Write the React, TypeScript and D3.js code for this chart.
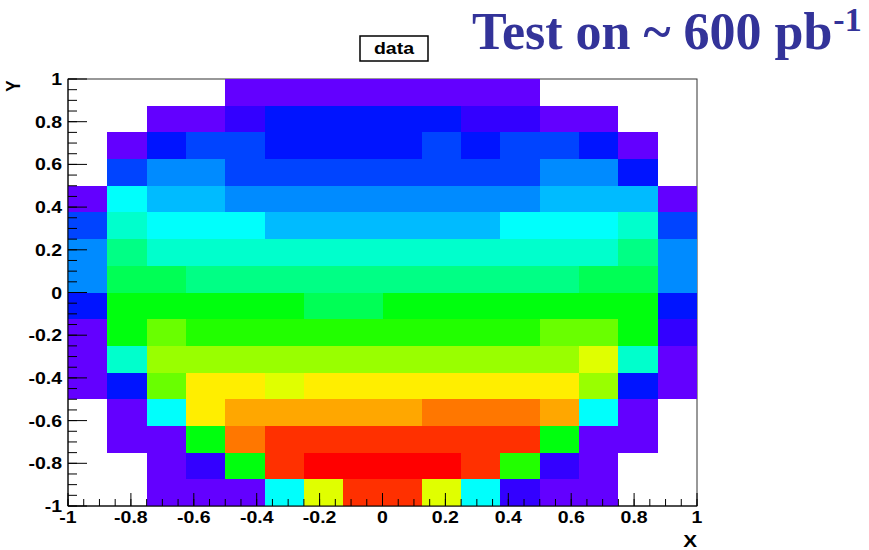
import React from "react";
import * as d3 from "d3";

// bin edges (16 x 16 bins)
const binEdges = [-1, -0.875, -0.75, -0.625, -0.5, -0.375, -0.25, -0.125, 0, 0.125, 0.25, 0.375, 0.5, 0.625, 0.75, 0.875, 1];

// contour level of each bin, rows from top (y = 1) to bottom (y = -1), columns x = -1 .. 1
const _ = null;
const levels: (number | null)[][] = [
  [_, _, _, _, 0, 0, 0, 0, 0, 0, 0, 0, _, _, _, _],
  [_, _, 0, 0, 1, 2, 2, 2, 2, 2, 1, 1, 0, 0, _, _],
  [_, 0, 2, 3, 3, 2, 2, 2, 2, 3, 2, 3, 3, 2, 0, _],
  [_, 3, 4, 4, 3, 3, 3, 3, 3, 3, 3, 3, 4, 4, 2, _],
  [0, 6, 5, 5, 4, 4, 4, 4, 4, 4, 4, 4, 5, 5, 5, 0],
  [3, 7, 6, 6, 6, 5, 5, 5, 5, 5, 5, 6, 6, 6, 7, 3],
  [4, 8, 7, 7, 7, 7, 7, 7, 7, 7, 7, 7, 7, 7, 8, 4],
  [4, 9, 9, 8, 8, 8, 8, 8, 8, 8, 8, 8, 8, 9, 9, 4],
  [2, 10, 10, 10, 10, 10, 9, 9, 10, 10, 10, 10, 10, 10, 10, 2],
  [0, 10, 12, 11, 11, 11, 11, 11, 11, 11, 11, 11, 12, 12, 10, 1],
  [0, 7, 13, 13, 13, 13, 13, 13, 13, 13, 13, 13, 13, 14, 7, 0],
  [0, 2, 12, 15, 15, 14, 15, 15, 15, 15, 15, 15, 15, 13, 2, 0],
  [_, 0, 6, 15, 16, 16, 16, 16, 16, 17, 17, 17, 16, 6, 0, _],
  [_, 0, 0, 10, 17, 18, 18, 18, 18, 18, 18, 18, 10, 0, 0, _],
  [_, _, 0, 1, 10, 18, 19, 19, 19, 19, 18, 11, 1, 0, _, _],
  [_, _, 0, 0, 0, 6, 14, 18, 18, 14, 6, 1, 0, 0, _, _],
];

// ROOT "pretty" palette, one colour per contour level
const palette = [
  "#6300FF", "#3300FF", "#0014FF", "#0044FF", "#008BFF", "#00BBFF", "#00FFFC", "#00FFCC", "#00FF85", "#00FF55",
  "#00FF0E", "#22FF00", "#69FF00", "#99FF00", "#E0FF00", "#FFEE00", "#FFA700", "#FF7700", "#FF3000", "#FF0000",
];

const majorTicks = [-1, -0.8, -0.6, -0.4, -0.2, 0, 0.2, 0.4, 0.6, 0.8, 1];
const tickLabels = ["-1", "-0.8", "-0.6", "-0.4", "-0.2", "0", "0.2", "0.4", "0.6", "0.8", "1"];

const W = 869;
const H = 550;
const left = 68, right = 697, top = 79, bottom = 506;
const font = "'Liberation Sans', Arial, Helvetica, sans-serif";
const stretch = 1.22;

const App = () => {
  const x = d3.scaleLinear().domain([-1, 1]).range([left, right]);
  const y = d3.scaleLinear().domain([-1, 1]).range([bottom, top]);
  const color = d3.scaleQuantize<string>().domain([0, 20]).range(palette);
  const minorTicks = d3.range(-1, 1.0001, 0.05);

  const cells: JSX.Element[] = [];
  levels.forEach((row, r) => {
    const yi = levels.length - 1 - r;
    row.forEach((z, c) => {
      if (z === null) return;
      const x0 = Math.round(x(binEdges[c]));
      const x1 = Math.round(x(binEdges[c + 1]));
      const y0 = Math.round(y(binEdges[yi + 1]));
      const y1 = Math.round(y(binEdges[yi]));
      cells.push(
        <rect key={`${r}-${c}`} x={x0} y={y0} width={x1 - x0} height={y1 - y0} fill={color(z)} />
      );
    });
  });

  return (
    <div style={{ position: "absolute", left: 0, top: 0 }}>
      <svg width={W} height={H} style={{ display: "block", background: "#fff" }}>
        {/* title */}
        <text
          x={472}
          y={49}
          fontFamily="'Liberation Serif', 'Times New Roman', serif"
          fontWeight="bold"
          fontSize={52}
          fill="#333399"
        >
          Test on ~ 600 pb
          <tspan fontSize={34} dy={-18} dx={1}>-1</tspan>
        </text>

        {/* histogram title box */}
        <rect x={360} y={36} width={68} height={25} fill="#fff" stroke="#000" strokeWidth={1.5} />
        <text
          transform={`translate(394,54) scale(${stretch},1)`}
          textAnchor="middle"
          fontFamily={font}
          fontWeight="bold"
          fontSize={16}
        >
          data
        </text>

        {/* frame */}
        <rect x={left} y={top} width={right - left} height={bottom - top} fill="none" stroke="#333" strokeWidth={1} />

        <g shapeRendering="crispEdges">{cells}</g>

        {/* axes */}
        <g stroke="#000" strokeWidth={1}>
          <line x1={left} x2={left} y1={top} y2={bottom} />
          <line x1={left} x2={right} y1={bottom} y2={bottom} />
          {minorTicks.map((t, i) => (
            <line key={`xm${i}`} x1={x(t)} x2={x(t)} y1={bottom} y2={bottom - 7} />
          ))}
          {majorTicks.map((t, i) => (
            <line key={`xM${i}`} x1={x(t)} x2={x(t)} y1={bottom} y2={bottom - 13} />
          ))}
          {minorTicks.map((t, i) => (
            <line key={`ym${i}`} x1={left} x2={left + 9} y1={y(t)} y2={y(t)} />
          ))}
          {majorTicks.map((t, i) => (
            <line key={`yM${i}`} x1={left} x2={left + 19} y1={y(t)} y2={y(t)} />
          ))}
        </g>

        <g fontFamily={font} fontWeight="bold" fontSize={16} fill="#000">
          {majorTicks.map((t, i) => (
            <text key={`xl${i}`} transform={`translate(${x(t)},523) scale(${stretch},1)`} textAnchor="middle">
              {tickLabels[i]}
            </text>
          ))}
          {majorTicks.map((t, i) => (
            <text
              key={`yl${i}`}
              transform={`translate(62,${y(t) + 6}) scale(${stretch},1)`}
              textAnchor="end"
            >
              {tickLabels[i]}
            </text>
          ))}
          <text transform={`translate(697,547) scale(${stretch},1)`} textAnchor="end" fontSize={17}>
            X
          </text>
          <text transform={`translate(20,86) scale(${stretch},1) rotate(-90)`} textAnchor="middle" fontSize={17}>
            Y
          </text>
        </g>
      </svg>
    </div>
  );
};

export default App;
